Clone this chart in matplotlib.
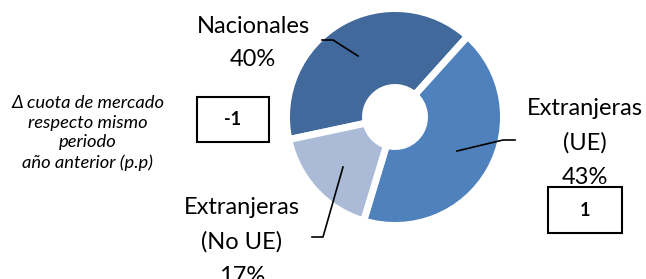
import matplotlib
matplotlib.use("Agg")
import matplotlib.pyplot as plt

categories = ["Nacionales", "Extranjeras\n(UE)", "Extranjeras\n(No UE)"]
shares = [40, 43, 17]
share_labels = ["40%", "43%", "17%"]
delta_values = ["-1", "1"]
colors = ["#41699C", "#4F81BD", "#AABAD7"]
note_text = "Δ cuota de mercado\nrespecto mismo\nperiodo\naño anterior (p.p)"

W, H = 646, 279
fig = plt.figure(figsize=(W / 100, H / 100), dpi=100)
ax = fig.add_axes([0, 0, 1, 1])
ax.axis("off")

def Y(y):
    return H - y

FONT = "Lato"
cx, cy = 395, 117
ax.pie(shares, colors=colors, startangle=192, counterclock=False,
       radius=108.5, center=(cx, Y(cy)),
       wedgeprops=dict(width=79, edgecolor="white", linewidth=5))
ax.set_xlim(0, W)
ax.set_ylim(0, H)
ax.set_aspect("auto")

fs = 17
ls = 1.75
ax.text(253, Y(43), categories[0] + "\n" + share_labels[0], ha="center", va="center",
        fontsize=fs, family=FONT, linespacing=ls)
ax.text(585, Y(143), categories[1] + "\n" + share_labels[1], ha="center", va="center",
        fontsize=fs, family=FONT, linespacing=ls)
ax.text(242, Y(242), categories[2] + "\n" + share_labels[2], ha="center", va="center",
        fontsize=fs, family=FONT, linespacing=ls)

# leader lines
lw = 1.2
ax.plot([322, 333, 358], [Y(40), Y(40), Y(56)], color="black", lw=lw)
ax.plot([457, 503, 515], [Y(151), Y(140), Y(140)], color="black", lw=lw)
ax.plot([343, 323, 312], [Y(167), Y(237), Y(237)], color="black", lw=lw)

# note text
ax.text(88, Y(133), note_text, ha="center", va="center", fontsize=13.2,
        style="italic", family=FONT, linespacing=1.28)

# boxes
for (x0, y0, x1, y1), val in zip([(197, 97, 269, 142), (548, 187, 622, 233)], delta_values):
    ax.add_patch(plt.Rectangle((x0, Y(y1)), x1 - x0, y1 - y0, fill=False,
                               edgecolor="black", lw=1.5))
    ax.text((x0 + x1) / 2, Y((y0 + y1) / 2), val, ha="center", va="center",
            fontsize=13, fontweight="bold", family=FONT)

fig.savefig("out.png", dpi=100)
